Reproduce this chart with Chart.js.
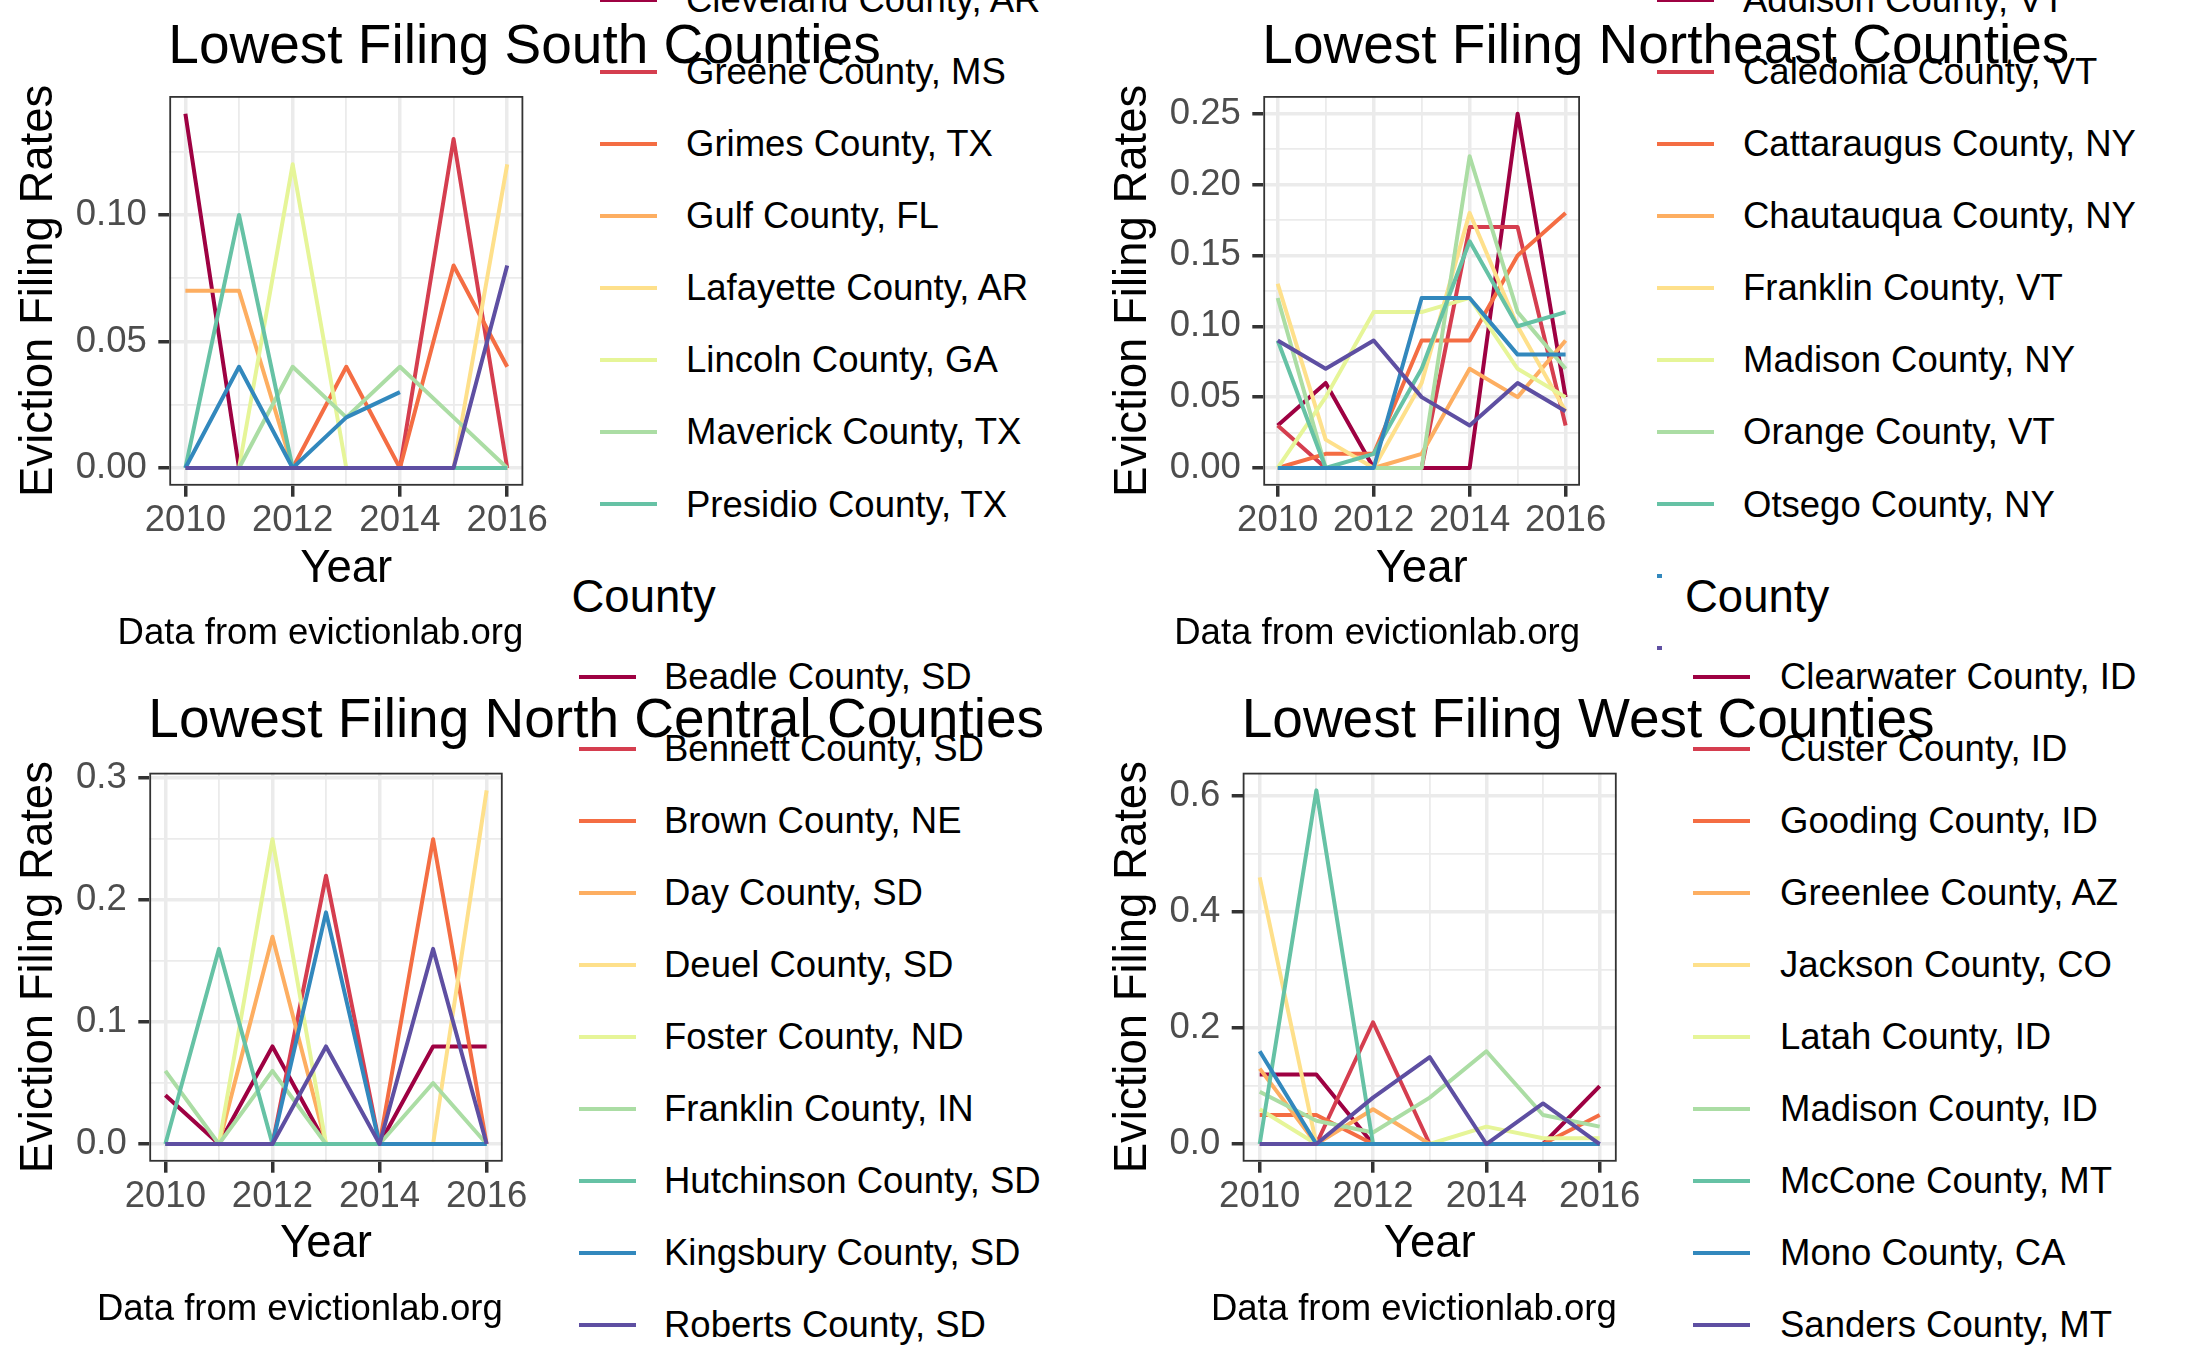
<!DOCTYPE html>
<html>
<head>
<meta charset="utf-8">
<script src="https://cdn.jsdelivr.net/npm/chart.js@4.4.1/dist/chart.umd.min.js"></script>
<style>
html,body{margin:0;padding:0;background:#fff;width:2187px;height:1351px;overflow:hidden;position:relative;font-family:'Liberation Sans',Arial,Helvetica,sans-serif;}
canvas{position:absolute;}
.lgbox{position:absolute;background:#fff;}
.key{position:absolute;height:4px;}
.lt{position:absolute;font-size:36.5px;line-height:36px;white-space:nowrap;color:#000;}
.ltitle{position:absolute;font-size:45.5px;line-height:45px;white-space:nowrap;color:#000;}
</style>
</head>
<body>
<script>
// ---------------- DATA ----------------
const years = [2010, 2011, 2012, 2013, 2014, 2015, 2016];
const xTickLabels = ['2010', '2012', '2014', '2016'];
const palette = ['#9E0142','#D53E4F','#F46D43','#FDAE61','#FEE08B','#E6F598','#ABDDA4','#66C2A5','#3288BD','#5E4FA2'];

const southNames = ['Cleveland County, AR','Greene County, MS','Grimes County, TX','Gulf County, FL','Lafayette County, AR','Lincoln County, GA','Maverick County, TX','Presidio County, TX','',''];
const southValues = [
  [0.14, 0, 0, 0, 0, 0, 0],
  [0, 0, 0, 0, 0, 0.13, 0],
  [0, 0, 0, 0.04, 0, 0.08, 0.04],
  [0.07, 0.07, 0, 0, 0, 0, 0],
  [0, 0, 0, 0, 0, 0, 0.12],
  [0, 0, 0.12, 0, 0, 0, 0],
  [0, 0, 0.04, 0.02, 0.04, 0.02, 0],
  [0, 0.10, 0, 0, 0, 0, 0],
  [0, 0.04, 0, 0.02, 0.03, null, null],
  [0, 0, 0, 0, 0, 0, 0.08]
];
const southYTicks = [0, 0.05, 0.10];
const southYLabels = ['0.00', '0.05', '0.10'];

const northeastNames = ['Addison County, VT','Caledonia County, VT','Cattaraugus County, NY','Chautauqua County, NY','Franklin County, VT','Madison County, NY','Orange County, VT','Otsego County, NY','',''];
const northeastValues = [
  [0.03, 0.06, 0, 0, 0, 0.25, 0.05],
  [0.03, 0, 0, 0, 0.17, 0.17, 0.03],
  [0, 0.01, 0.01, 0.09, 0.09, 0.15, 0.18],
  [0, 0, 0, 0.01, 0.07, 0.05, 0.09],
  [0.13, 0.02, 0, 0.06, 0.18, 0.10, 0.04],
  [0, 0.05, 0.11, 0.11, 0.12, 0.07, 0.05],
  [0.12, 0, 0, 0, 0.22, 0.11, 0.07],
  [0.09, 0, 0.01, 0.07, 0.16, 0.10, 0.11],
  [0, 0, 0, 0.12, 0.12, 0.08, 0.08],
  [0.09, 0.07, 0.09, 0.05, 0.03, 0.06, 0.04]
];
const northeastYTicks = [0, 0.05, 0.10, 0.15, 0.20, 0.25];
const northeastYLabels = ['0.00', '0.05', '0.10', '0.15', '0.20', '0.25'];

const northCentralNames = ['Beadle County, SD','Bennett County, SD','Brown County, NE','Day County, SD','Deuel County, SD','Foster County, ND','Franklin County, IN','Hutchinson County, SD','Kingsbury County, SD','Roberts County, SD'];
const northCentralValues = [
  [0.04, 0, 0.08, 0, 0, 0.08, 0.08],
  [0, 0, 0, 0.22, 0, 0, 0],
  [0, 0, 0, 0, 0, 0.25, 0],
  [0, 0, 0.17, 0, 0, 0, 0],
  [0, 0, 0, 0, 0, 0, 0.29],
  [0, 0, 0.25, 0, 0, 0, 0],
  [0.06, 0, 0.06, 0, 0, 0.05, 0],
  [0, 0.16, 0, 0, 0, 0, 0],
  [0, 0, 0, 0.19, 0, 0, 0],
  [0, 0, 0, 0.08, 0, 0.16, 0]
];
const northCentralYTicks = [0, 0.1, 0.2, 0.3];
const northCentralYLabels = ['0.0', '0.1', '0.2', '0.3'];

const westNames = ['Clearwater County, ID','Custer County, ID','Gooding County, ID','Greenlee County, AZ','Jackson County, CO','Latah County, ID','Madison County, ID','McCone County, MT','Mono County, CA','Sanders County, MT'];
const westValues = [
  [0.12, 0.12, 0, 0, 0, 0, 0.10],
  [0, 0, 0.21, 0, 0, 0, 0],
  [0.05, 0.05, 0, 0, 0, 0, 0.05],
  [0.13, 0, 0.06, 0, 0, 0, 0],
  [0.46, 0, 0, 0, 0, 0, 0],
  [0.06, 0, 0, 0, 0.03, 0.01, 0.01],
  [0.09, 0.04, 0.02, 0.08, 0.16, 0.05, 0.03],
  [0, 0.61, 0, 0, 0, 0, 0],
  [0.16, 0, 0, 0, 0, 0, 0],
  [0, 0, 0.08, 0.15, 0, 0.07, 0]
];
const westYTicks = [0, 0.2, 0.4, 0.6];
const westYLabels = ['0.0', '0.2', '0.4', '0.6'];

const titles = ['Lowest Filing South Counties','Lowest Filing Northeast Counties','Lowest Filing North Central Counties','Lowest Filing West Counties'];
const yAxisTitle = 'Eviction Filing Rates';
const xAxisTitle = 'Year';
const captionText = 'Data from evictionlab.org';
const legendTitle = 'County';

// ---------------- LAYOUT ----------------
const FAM = "'Liberation Sans', Arial, Helvetica, sans-serif";
const LINE_W = 4;
const panels = [
  {names:southNames, values:southValues, yt:southYTicks, yl:southYLabels, title:titles[0],
   cx:0, cy:0, w:1093, h:675, z:2, yW:169.3, padTop:96, padRight:569.7, xH:189.3, titleBase:63.3, capBase:644, yearPadB:77.8,
   leg:{z:1, keyX:600, keyW:57, textX:686, entry0:-0.3, box:null, titleX:null}},
  {names:northeastNames, values:northeastValues, yt:northeastYTicks, yl:northeastYLabels, title:titles[1],
   cx:1094, cy:0, w:1093, h:675, z:2, yW:169.3, padTop:96, padRight:607, xH:189.3, titleBase:63.3, capBase:644, yearPadB:77.8,
   leg:{z:1, keyX:1657, keyW:57, textX:1743, entry0:-0.3, box:null, titleX:null}},
  {names:northCentralNames, values:northCentralValues, yt:northCentralYTicks, yl:northCentralYLabels, title:titles[2],
   cx:0, cy:675, w:1093, h:676, z:4, yW:149.3, padTop:97.7, padRight:590.3, xH:189.3, titleBase:61.7, capBase:645, yearPadB:78.8,
   leg:{z:3, keyX:579, keyW:57, textX:664, entry0:676.5, box:{l:548, t:555, r:1090}, titleX:571.5, titleTop:574.4}},
  {names:westNames, values:westValues, yt:westYTicks, yl:westYLabels, title:titles[3],
   cx:1094, cy:675, w:1093, h:676, z:4, yW:148.7, padTop:97.7, padRight:570.3, xH:189.3, titleBase:61.7, capBase:645, yearPadB:78.8,
   leg:{z:3, keyX:1693, keyW:57, textX:1780, entry0:676.5, box:{l:1662, t:555, r:2187}, titleX:1685, titleTop:574.4}}
];
const ENTRY_STEP = 72.06;

const decor = {
  id: 'decor',
  afterDatasetsDraw(chart, args, o) {
    const ctx = chart.ctx, a = chart.chartArea;
    ctx.save();
    ctx.strokeStyle = '#333333';
    ctx.lineWidth = 1.8;
    ctx.strokeRect(a.left + 0.9, a.top + 0.9, a.right - a.left - 1.8, a.bottom - a.top - 1.8);
    ctx.restore();
  },
  afterDraw(chart, args, o) {
    const ctx = chart.ctx, a = chart.chartArea;
    ctx.save();
    ctx.fillStyle = '#000';
    ctx.textBaseline = 'alphabetic';
    ctx.textAlign = 'left';
    ctx.font = '55px ' + FAM;
    ctx.fillText(o.title, a.left - 1, o.titleBase);
    ctx.textAlign = 'right';
    ctx.font = '36.5px ' + FAM;
    ctx.fillText(o.caption, a.right, o.capBase);
    ctx.restore();
  }
};

function near(a, b) { return Math.abs(a - b) < 1e-7; }

function buildLegend(p) {
  const L = p.leg;
  if (L.box) {
    const b = document.createElement('div');
    b.className = 'lgbox';
    b.style.left = L.box.l + 'px'; b.style.top = L.box.t + 'px';
    b.style.width = (L.box.r - L.box.l) + 'px'; b.style.height = (1351 - L.box.t) + 'px';
    b.style.zIndex = L.z;
    document.body.appendChild(b);
  }
  if (L.titleX !== null) {
    const t = document.createElement('div');
    t.className = 'ltitle';
    t.textContent = legendTitle;
    t.style.left = L.titleX + 'px'; t.style.top = L.titleTop + 'px';
    t.style.zIndex = L.z;
    document.body.appendChild(t);
  }
  p.names.forEach((n, i) => {
    const y = L.entry0 + i * ENTRY_STEP;
    const k = document.createElement('div');
    k.className = 'key';
    k.style.left = L.keyX + 'px'; k.style.top = (y - LINE_W / 2) + 'px';
    k.style.width = L.keyW + 'px'; k.style.background = palette[i];
    k.style.zIndex = L.z;
    document.body.appendChild(k);
    if (n) {
      const t = document.createElement('div');
      t.className = 'lt';
      t.textContent = n;
      t.style.left = L.textX + 'px'; t.style.top = (y - 17.6) + 'px';
      t.style.zIndex = L.z;
      document.body.appendChild(t);
    }
  });
}

function buildChart(p) {
  const cv = document.createElement('canvas');
  cv.width = p.w; cv.height = p.h;
  cv.style.left = p.cx + 'px'; cv.style.top = p.cy + 'px';
  cv.style.width = p.w + 'px'; cv.style.height = p.h + 'px';
  cv.style.zIndex = p.z;
  document.body.appendChild(cv);

  const all = p.values.flat().filter(v => v !== null);
  const dMax = Math.max(...all), dMin = Math.min(...all);
  const span = dMax - dMin;
  const yMin = dMin - 0.05 * span, yMax = dMax + 0.05 * span;
  const half = (p.yt[1] - p.yt[0]) / 2;
  const yTickVals = [];
  for (let k = 0; k * half <= yMax + 1e-9; k++) yTickVals.push(+(k * half).toFixed(6));
  const xMin = years[0] - 0.05 * (years[years.length - 1] - years[0]);
  const xMax = years[years.length - 1] + 0.05 * (years[years.length - 1] - years[0]);

  const isMajorY = v => p.yt.some(t => near(t, v));
  const isMajorX = v => xTickLabels.includes(String(v));

  const datasets = p.names.map((n, i) => ({
    label: n,
    data: years.map((yr, j) => ({x: yr, y: p.values[i][j]})),
    borderColor: palette[i],
    backgroundColor: palette[i],
    borderWidth: LINE_W,
    borderJoinStyle: 'round',
    borderCapStyle: 'butt',
    pointRadius: 0,
    tension: 0,
    fill: false,
    order: p.names.length - i
  }));

  new Chart(cv, {
    type: 'line',
    data: {datasets},
    options: {
      responsive: false,
      animation: false,
      devicePixelRatio: 1,
      layout: {padding: {left: 0, top: p.padTop, right: p.padRight, bottom: 0}},
      plugins: {
        legend: {display: false},
        title: {display: false},
        tooltip: {enabled: false},
        decor: {title: p.title, caption: captionText, titleBase: p.titleBase, capBase: p.capBase}
      },
      scales: {
        x: {
          type: 'linear', min: xMin, max: xMax,
          afterBuildTicks: s => { s.ticks = years.map(v => ({value: v})); },
          afterFit: s => { s.height = p.xH; },
          ticks: {
            autoSkip: false, maxRotation: 0, minRotation: 0, padding: 2.75,
            color: '#4D4D4D', font: {family: FAM, size: 36.5, lineHeight: 1.2},
            callback: v => (isMajorX(v) ? String(v) : '')
          },
          grid: {
            color: '#EBEBEB',
            lineWidth: c => (c.tick && isMajorX(c.tick.value) ? 3.5 : 1.8),
            tickColor: c => (c.tick && isMajorX(c.tick.value) ? '#333333' : 'rgba(0,0,0,0)'),
            tickWidth: 3.5, tickLength: 11, drawTicks: true
          },
          border: {display: false},
          title: {display: true, text: xAxisTitle, color: '#000',
                  font: {family: FAM, size: 45.5, lineHeight: 1.2}, padding: {top: 0, bottom: p.yearPadB}}
        },
        y: {
          type: 'linear', min: yMin, max: yMax,
          afterBuildTicks: s => { s.ticks = yTickVals.map(v => ({value: v})); },
          afterFit: s => { s.width = p.yW; },
          ticks: {
            autoSkip: false, padding: 11.5,
            color: '#4D4D4D', font: {family: FAM, size: 36.5, lineHeight: 1.2},
            callback: v => { const k = p.yt.findIndex(t => near(t, v)); return k >= 0 ? p.yl[k] : ''; }
          },
          grid: {
            color: '#EBEBEB',
            lineWidth: c => (c.tick && isMajorY(c.tick.value) ? 3.5 : 1.8),
            tickColor: c => (c.tick && isMajorY(c.tick.value) ? '#333333' : 'rgba(0,0,0,0)'),
            tickWidth: 3.5, tickLength: 11, drawTicks: true
          },
          border: {display: false},
          title: {display: true, text: yAxisTitle, color: '#000',
                  font: {family: FAM, size: 45.5, lineHeight: 1.2}, padding: {top: 11.9, bottom: 0}}
        }
      }
    },
    plugins: [decor]
  });
}

panels.forEach(p => { buildLegend(p); buildChart(p); });
</script>
</body>
</html>
